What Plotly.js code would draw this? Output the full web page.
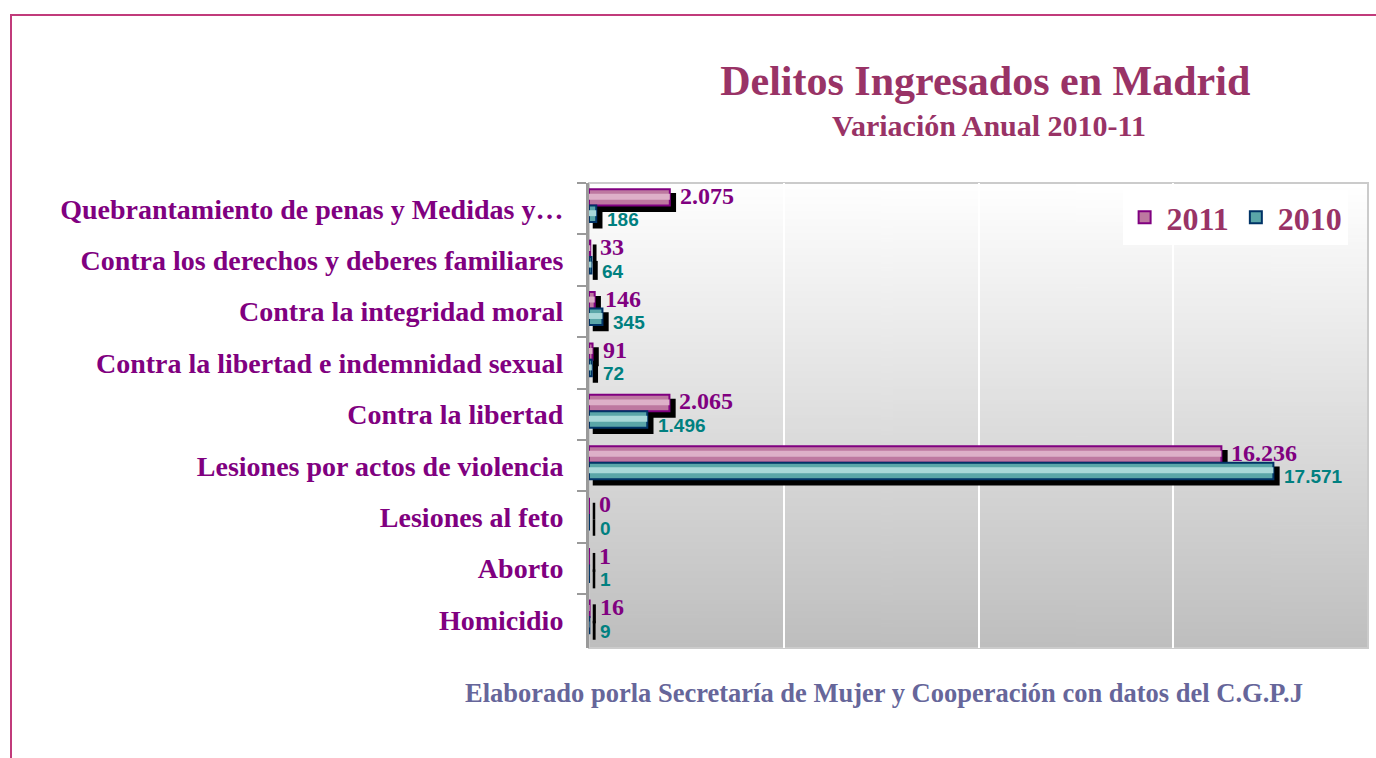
<!DOCTYPE html>
<html>
<head>
<meta charset="utf-8">
<script src="https://cdn.plot.ly/plotly-3.0.1.min.js"></script>
<style>
  html, body { margin: 0; padding: 0; background: #ffffff; overflow: hidden; }
  #chart { position: absolute; left: 0; top: 0; width: 1376px; height: 758px; }
  #frame { position: absolute; left: 10px; top: 14px; width: 3000px; height: 3000px;
           border-left: 2px solid #c13b7b; border-top: 2px solid #c13b7b;
           pointer-events: none; z-index: 10; }
</style>
</head>
<body>
<div id="chart"></div>
<div id="frame"></div>
<script>
// ---- Data ----
const categories = [
  "Quebrantamiento de penas y Medidas y\u2026",
  "Contra los derechos y deberes familiares",
  "Contra la integridad moral",
  "Contra la libertad e indemnidad sexual",
  "Contra la libertad",
  "Lesiones por actos de violencia",
  "Lesiones al feto",
  "Aborto",
  "Homicidio"
];
const seriesNames = ["2011", "2010"];
const v2011 = [2075, 33, 146, 91, 2065, 16236, 0, 1, 16];
const v2010 = [186, 64, 345, 72, 1496, 17571, 0, 1, 9];

// ---- Style ----
const AXMAX = 20000;
const SHADOW_X = 128;   // shadow shift (axis units ~ 5px)
const SHADOW_Y = 0.1;   // shadow shift (category units ~ 5px)
const BW = 0.32;
const OFF11 = -0.38, OFF10 = -0.06;

function fmt(v) { return String(v).replace(/\B(?=(\d{3})+(?!\d))/g, '.'); }

// gradient background image for plot area
const cv = document.createElement('canvas');
cv.width = 4; cv.height = 256;
const ctx = cv.getContext('2d');
const g = ctx.createLinearGradient(0, 0, 0, 256);
g.addColorStop(0, '#ffffff');
g.addColorStop(1, '#bebebe');
ctx.fillStyle = g; ctx.fillRect(0, 0, 4, 256);
const bgImg = cv.toDataURL('image/png');

function shadow(vals, off) {
  return { type: 'bar', orientation: 'h', x: vals, y: categories, xaxis: 'x', yaxis: 'y',
    offset: off + SHADOW_Y, width: BW, showlegend: false, hoverinfo: 'skip',
    marker: { color: '#000000', line: { color: '#000000', width: 2.5 } } };
}
function mainBar(vals, off, name, fill, line) {
  return { type: 'bar', orientation: 'h', x: vals, y: categories, xaxis: 'x2', yaxis: 'y',
    offset: off, width: BW, name: name, showlegend: true,
    marker: { color: fill, line: { color: line, width: 2 } } };
}
function highlight(vals, off, fill) {
  return { type: 'bar', orientation: 'h', x: vals, y: categories, xaxis: 'x2', yaxis: 'y',
    offset: off + BW * 0.28, width: BW * 0.36, showlegend: false, hoverinfo: 'skip',
    marker: { color: fill, line: { width: 0 } } };
}

const traces = [
  shadow(v2011, OFF11),
  shadow(v2010, OFF10),
  mainBar(v2011, OFF11, seriesNames[0], '#bd78a0', '#800080'),
  highlight(v2011, OFF11, '#ddb0c8'),
  mainBar(v2010, OFF10, seriesNames[1], '#5aa6a8', '#003366'),
  highlight(v2010, OFF10, '#a8d8d8')
];

const annotations = [];
categories.forEach((c, i) => {
  annotations.push({ xref: 'x2', yref: 'y', x: v2011[i], y: c, text: fmt(v2011[i]),
    showarrow: false, xanchor: 'left', yanchor: 'middle', xshift: 8, yshift: 13,
    font: { family: 'Liberation Serif', size: 24, color: '#800080', weight: 'bold' } });
  annotations.push({ xref: 'x2', yref: 'y', x: v2010[i], y: c, text: fmt(v2010[i]),
    showarrow: false, xanchor: 'left', yanchor: 'middle', xshift: 9, yshift: -11,
    font: { family: 'Liberation Sans', size: 19, color: '#008080', weight: 'bold' } });
});
annotations.push({ xref: 'paper', yref: 'paper', x: 0.5135, y: 1.1247, text: 'Variación Anual 2010-11',
  showarrow: false, xanchor: 'center', yanchor: 'middle',
  font: { family: 'Liberation Serif', size: 30, color: '#993366', weight: 'bold' } });
annotations.push({ xref: 'paper', yref: 'paper', x: 0.3787, y: -0.0968,
  text: 'Elaborado porla Secretaría de Mujer y Cooperación con datos del C.G.P.J',
  showarrow: false, xanchor: 'center', yanchor: 'middle',
  font: { family: 'Liberation Serif', size: 26.5, color: '#66669a', weight: 'bold' } });

const layout = {
  width: 1376, height: 758,
  margin: { l: 589, r: 8, t: 183, b: 110, pad: 0 },
  paper_bgcolor: '#ffffff',
  plot_bgcolor: 'rgba(0,0,0,0)',
  barmode: 'overlay',
  separators: ',.',
  title: { text: 'Delitos Ingresados en Madrid', xref: 'container', yref: 'container',
    x: 0.716, xanchor: 'center', y: 1 - 80 / 758, yanchor: 'middle',
    font: { family: 'Liberation Serif', size: 42, color: '#993366', weight: 'bold' } },
  xaxis: { range: [-SHADOW_X, AXMAX - SHADOW_X], showgrid: false, zeroline: false,
    showticklabels: false, ticks: '', showline: false, fixedrange: true },
  xaxis2: { range: [0, AXMAX], overlaying: 'x', side: 'bottom', dtick: 5000, showgrid: true,
    gridcolor: '#ffffff', gridwidth: 2, zeroline: false, showticklabels: false, ticks: '',
    showline: false, fixedrange: true },
  yaxis: { type: 'category', categoryorder: 'array', categoryarray: categories,
    autorange: 'reversed', showline: true, linecolor: '#9a9a9a', linewidth: 3,
    ticks: 'outside', tickson: 'boundaries', ticklen: 9, tickwidth: 2, tickcolor: '#9a9a9a',
    ticklabelstandoff: 17, showgrid: false, zeroline: false,
    tickfont: { family: 'Liberation Serif', size: 28, color: '#800080', weight: 'bold' } },
  legend: { orientation: 'h', x: 0.685, y: 0.985, xanchor: 'left', yanchor: 'top',
    bgcolor: '#ffffff', borderwidth: 0, traceorder: 'normal', itemwidth: 34,
    font: { family: 'Liberation Serif', size: 32, color: '#993366', weight: 'bold' } },
  images: [{ source: bgImg, xref: 'paper', yref: 'paper', x: 0, y: 1, sizex: 1, sizey: 1,
    xanchor: 'left', yanchor: 'top', sizing: 'stretch', layer: 'below' }],
  shapes: [{ type: 'rect', xref: 'paper', yref: 'paper', x0: 0, x1: 1, y0: 0, y1: 1,
    line: { color: '#cbcbcb', width: 2 }, fillcolor: 'rgba(0,0,0,0)', layer: 'below' }],
  annotations: annotations,
  showlegend: true
};

Plotly.newPlot('chart', traces, layout, { displayModeBar: false, staticPlot: true });
</script>
</body>
</html>
